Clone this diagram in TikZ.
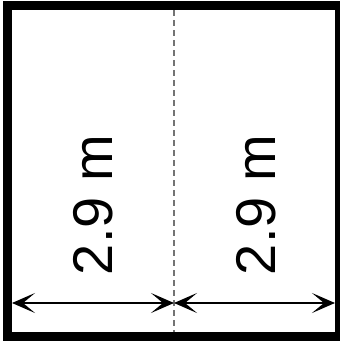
\documentclass[tikz,border=0pt]{standalone}
\usepackage{fontspec}
\setmainfont{Liberation Sans}
\usetikzlibrary{arrows.meta}
\tikzset{
  wall/.style={line width=9pt, draw=black},
  midline/.style={draw=black!55, line width=1.4pt, dash pattern=on 6pt off 4pt},
  dimline/.style={draw=black, line width=2pt, {Stealth[length=23pt,width=20pt,inset=12pt]}-{Stealth[length=23pt,width=20pt,inset=12pt]}},
  dimlabel/.style={rotate=90, anchor=base, inner sep=0pt, font=\fontsize{56}{60}\selectfont}
}
\begin{document}
\begin{tikzpicture}[x=1pt,y=-1pt]
\useasboundingbox (0,0) rectangle (340,341);
\begin{scope}
\clip (0,0) rectangle (340,341);
\draw[wall] (7.5,5.5) rectangle (339.5,336.5);
\end{scope}
\coordinate (T) at (174,10);
\coordinate (B) at (174,332);
\draw[midline] (T) -- (B);
\coordinate (L) at (12,303);
\coordinate (C) at (174,303);
\coordinate (R) at (335,303);
\draw[dimline] (L) -- (C);
\draw[dimline] (C) -- (R);
\node[dimlabel] (t1) at (113,205) {2.9 m};
\node[dimlabel] (t2) at (276,205) {2.9 m};
\end{tikzpicture}
\end{document}
